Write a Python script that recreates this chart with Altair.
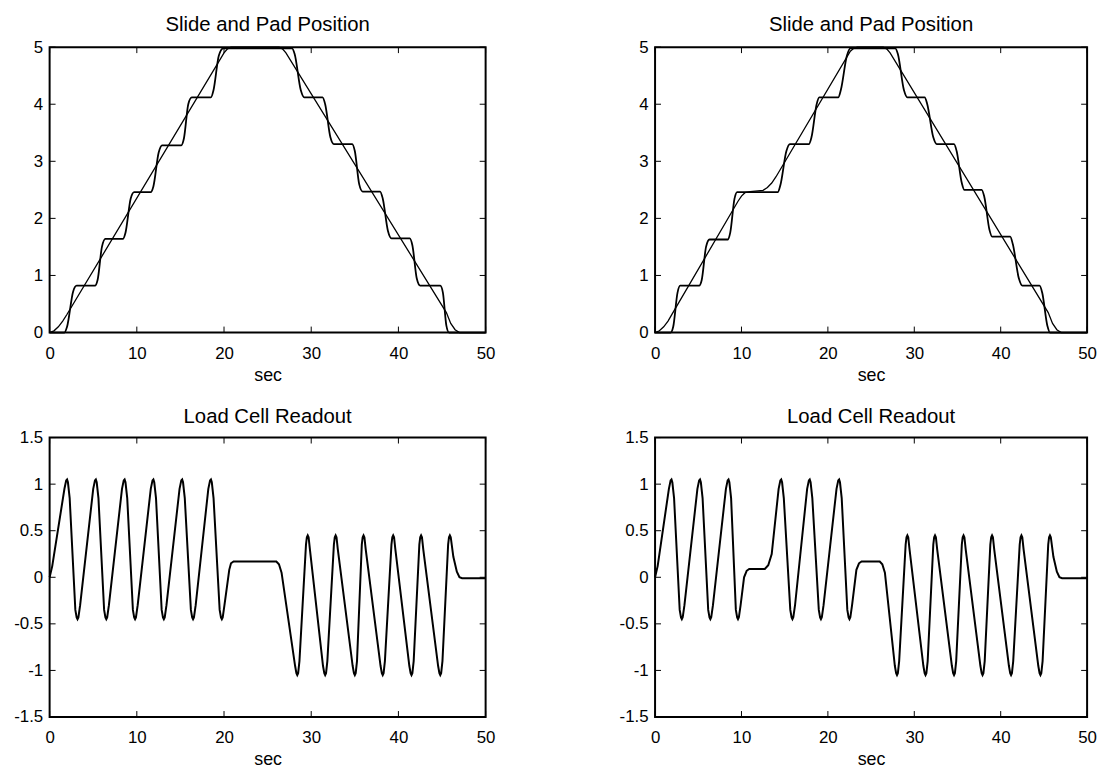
import altair as alt
import pandas as pd

# ---------------- data ----------------
X_TICKS = [0, 10, 20, 30, 40, 50]
POS_TICKS = [0, 1, 2, 3, 4, 5]
LOAD_TICKS = [-1.5, -1, -0.5, 0, 0.5, 1, 1.5]

# top-left: slide (straight ramp) and pad (stair steps)
TL_SLIDE_T = [0, 0.5, 1, 1.5, 2, 20.0, 20.4, 20.8, 26.3, 26.7, 27.1, 45.5,
              46.0, 46.5, 47.0, 50]
TL_SLIDE_Y = [0, 0.03, 0.1, 0.2, 0.32, 4.9, 4.97, 5.0, 5.0, 4.97, 4.9, 0.35,
              0.16, 0.05, 0.0, 0.0]

TL_PAD_T = [0, 1.7, 2.0, 2.7, 3.1, 5.2, 5.5, 6.0, 6.4, 8.4, 8.7, 9.3, 9.7,
            11.6, 11.9, 12.5, 12.9, 15.1, 15.4, 15.9, 16.3, 18.5, 18.8, 19.4,
            19.9, 27.8, 28.1, 28.8, 29.2, 31.3, 31.6, 32.2, 32.6, 34.7, 35.0,
            35.5, 35.9, 37.9, 38.2, 38.8, 39.2, 41.3, 41.6, 42.1, 42.5, 44.8,
            45.1, 45.5, 45.8, 50]
TL_PAD_Y = [0, 0, 0.1, 0.72, 0.82, 0.82, 0.92, 1.5, 1.64, 1.64, 1.75, 2.35,
            2.46, 2.46, 2.56, 3.15, 3.28, 3.28, 3.4, 4.0, 4.12, 4.12, 4.25,
            4.85, 4.98, 4.98, 4.88, 4.25, 4.12, 4.12, 4.0, 3.42, 3.3, 3.3,
            3.18, 2.6, 2.47, 2.47, 2.35, 1.78, 1.65, 1.65, 1.53, 0.95, 0.82,
            0.82, 0.7, 0.12, 0.0, 0.0]

# top-right: slide with a pause near 2.5, and pad
TR_SLIDE_T = [0, 0.5, 1, 1.5, 2, 9.6, 10.0, 10.4, 11.0, 12.5, 13.0, 13.5,
              14.0, 22.6, 23.0, 23.4, 26.4, 26.8, 27.2, 45.5, 46.0, 46.5,
              47.0, 50]
TR_SLIDE_Y = [0, 0.03, 0.1, 0.2, 0.33, 2.3, 2.39, 2.45, 2.47, 2.49, 2.54,
              2.62, 2.73, 4.93, 4.98, 5.0, 5.0, 4.97, 4.9, 0.35, 0.16, 0.05,
              0.0, 0.0]

TR_PAD_T = [0, 1.8, 2.1, 2.6, 2.9, 5.1, 5.4, 5.9, 6.3, 8.45, 8.7, 9.2, 9.5,
            14.2, 14.5, 15.2, 15.6, 17.8, 18.1, 18.7, 19.0, 21.2, 21.5, 22.2,
            22.6, 27.8, 28.1, 28.8, 29.2, 31.2, 31.5, 32.2, 32.6, 34.6, 34.9,
            35.5, 35.8, 37.8, 38.1, 38.7, 39.0, 41.1, 41.4, 42.1, 42.5, 44.5,
            44.8, 45.4, 45.7, 50]
TR_PAD_Y = [0, 0, 0.1, 0.7, 0.82, 0.82, 0.92, 1.5, 1.63, 1.63, 1.75, 2.35,
            2.46, 2.46, 2.58, 3.18, 3.3, 3.3, 3.42, 4.0, 4.12, 4.12, 4.25,
            4.85, 4.98, 4.98, 4.88, 4.25, 4.12, 4.12, 4.0, 3.42, 3.3, 3.3,
            3.18, 2.62, 2.5, 2.5, 2.38, 1.8, 1.68, 1.68, 1.55, 0.95, 0.82,
            0.82, 0.7, 0.12, 0.0, 0.0]

# bottom-left: load cell readout
BL_LOAD_T = [0, 0.3, 1.7, 1.9, 2.0, 2.1, 2.3, 2.95, 3.1, 3.2, 3.3, 3.5,
             5.0, 5.2, 5.3, 5.4, 5.6, 6.25, 6.4, 6.5, 6.6, 6.8,
             8.3, 8.5, 8.6, 8.7, 8.9, 9.55, 9.7, 9.8, 9.9, 10.1,
             11.6, 11.8, 11.9, 12.0, 12.2, 12.85, 13.0, 13.1, 13.2, 13.4,
             14.9, 15.1, 15.2, 15.3, 15.5, 16.2, 16.35, 16.45, 16.55, 16.75,
             18.2, 18.4, 18.5, 18.6, 18.8, 19.5, 19.65, 19.75, 19.85, 20.05,
             20.6, 20.8, 21.1, 26.0, 26.3, 26.6,
             28.15, 28.3, 28.4, 28.5, 28.65, 29.4, 29.5, 29.6, 29.7, 29.85,
             31.35, 31.5, 31.6, 31.7, 31.85, 32.6, 32.7, 32.8, 32.9, 33.05,
             34.75, 34.9, 35.0, 35.1, 35.25, 35.8, 35.9, 36.0, 36.1, 36.25,
             37.95, 38.1, 38.2, 38.3, 38.45, 39.2, 39.3, 39.4, 39.5, 39.65,
             41.25, 41.4, 41.5, 41.6, 41.75, 42.4, 42.5, 42.6, 42.7, 42.85,
             44.55, 44.7, 44.8, 44.9, 45.05, 45.7, 45.8, 45.9, 46.0, 46.3,
             46.7, 47.0, 47.3, 50]
BL_LOAD_Y = [0, 0.12, 0.95, 1.04, 1.05, 1.02, 0.85, -0.35, -0.43, -0.45, -0.43, -0.3,
             0.95, 1.04, 1.05, 1.02, 0.85, -0.35, -0.43, -0.45, -0.43, -0.3,
             0.95, 1.04, 1.05, 1.02, 0.85, -0.35, -0.43, -0.45, -0.43, -0.3,
             0.95, 1.04, 1.05, 1.02, 0.85, -0.35, -0.43, -0.45, -0.43, -0.3,
             0.95, 1.04, 1.05, 1.02, 0.85, -0.35, -0.43, -0.45, -0.43, -0.3,
             0.95, 1.04, 1.05, 1.02, 0.85, -0.35, -0.43, -0.45, -0.43, -0.3,
             0.08, 0.15, 0.17, 0.17, 0.14, 0.05,
             -0.95, -1.03, -1.05, -1.03, -0.9, 0.35, 0.43, 0.45, 0.43, 0.3,
             -0.95, -1.03, -1.05, -1.03, -0.9, 0.35, 0.43, 0.45, 0.43, 0.3,
             -0.95, -1.03, -1.05, -1.03, -0.9, 0.35, 0.43, 0.45, 0.43, 0.3,
             -0.95, -1.03, -1.05, -1.03, -0.9, 0.35, 0.43, 0.45, 0.43, 0.3,
             -0.95, -1.03, -1.05, -1.03, -0.9, 0.35, 0.43, 0.45, 0.43, 0.3,
             -0.95, -1.03, -1.05, -1.03, -0.9, 0.35, 0.43, 0.45, 0.43, 0.22,
             0.06, 0.0, -0.01, -0.01]

# bottom-right: load cell readout with a pause
BR_LOAD_T = [0, 0.3, 1.6, 1.8, 1.9, 2.0, 2.2, 2.85, 3.0, 3.1, 3.2, 3.4,
             4.9, 5.1, 5.2, 5.3, 5.5, 6.15, 6.3, 6.4, 6.5, 6.7,
             8.2, 8.4, 8.5, 8.6, 8.8, 9.35, 9.5, 9.6, 9.7, 9.9,
             10.3, 10.6, 10.9, 12.7, 13.1, 13.5,
             14.3, 14.5, 14.6, 14.7, 14.9, 15.65, 15.8, 15.9, 16.0, 16.2,
             17.6, 17.8, 17.9, 18.0, 18.2, 18.95, 19.1, 19.2, 19.3, 19.5,
             21.0, 21.2, 21.3, 21.4, 21.6, 22.25, 22.4, 22.5, 22.6, 22.8,
             23.3, 23.6, 23.9, 26.0, 26.3, 26.6,
             27.75, 27.9, 28.0, 28.1, 28.25, 29.0, 29.1, 29.2, 29.3, 29.45,
             31.05, 31.2, 31.3, 31.4, 31.55, 32.2, 32.3, 32.4, 32.5, 32.65,
             34.35, 34.5, 34.6, 34.7, 34.85, 35.5, 35.6, 35.7, 35.8, 35.95,
             37.65, 37.8, 37.9, 38.0, 38.15, 38.8, 38.9, 39.0, 39.1, 39.25,
             40.95, 41.1, 41.2, 41.3, 41.45, 42.2, 42.3, 42.4, 42.5, 42.65,
             44.35, 44.5, 44.6, 44.7, 44.85, 45.5, 45.6, 45.7, 45.8, 46.1,
             46.5, 46.8, 47.1, 50]
BR_LOAD_Y = [0, 0.12, 0.95, 1.04, 1.05, 1.02, 0.85, -0.35, -0.43, -0.45, -0.43, -0.3,
             0.95, 1.04, 1.05, 1.02, 0.85, -0.35, -0.43, -0.45, -0.43, -0.3,
             0.95, 1.04, 1.05, 1.02, 0.85, -0.35, -0.43, -0.45, -0.43, -0.3,
             0.0, 0.07, 0.09, 0.09, 0.13, 0.25,
             0.95, 1.04, 1.05, 1.02, 0.85, -0.35, -0.43, -0.45, -0.43, -0.3,
             0.95, 1.04, 1.05, 1.02, 0.85, -0.35, -0.43, -0.45, -0.43, -0.3,
             0.95, 1.04, 1.05, 1.02, 0.85, -0.35, -0.43, -0.45, -0.43, -0.3,
             0.08, 0.15, 0.17, 0.17, 0.14, 0.05,
             -0.95, -1.03, -1.05, -1.03, -0.9, 0.35, 0.43, 0.45, 0.43, 0.3,
             -0.95, -1.03, -1.05, -1.03, -0.9, 0.35, 0.43, 0.45, 0.43, 0.3,
             -0.95, -1.03, -1.05, -1.03, -0.9, 0.35, 0.43, 0.45, 0.43, 0.3,
             -0.95, -1.03, -1.05, -1.03, -0.9, 0.35, 0.43, 0.45, 0.43, 0.3,
             -0.95, -1.03, -1.05, -1.03, -0.9, 0.35, 0.43, 0.45, 0.43, 0.3,
             -0.95, -1.03, -1.05, -1.03, -0.9, 0.35, 0.43, 0.45, 0.43, 0.22,
             0.06, 0.0, -0.01, -0.01]

FONT = "Liberation Sans"
TICK = 6


def panel(title, series, ydom, yticks, w, h, toff):
    xs = alt.Scale(domain=[0, 50], nice=False, zero=False)
    ys = alt.Scale(domain=ydom, nice=False, zero=False)
    xaxis = alt.Axis(values=X_TICKS, title="sec", labelPadding=13,
                     titlePadding=5, labelFlush=False)
    yaxis = alt.Axis(values=yticks, title=None, labelPadding=7,
                     labelExpr="datum.value")
    layers = []
    for t, v, sw, interp in series:
        df = pd.DataFrame({"t": t, "v": v})
        layers.append(
            alt.Chart(df).mark_line(color="black", strokeWidth=sw,
                                    interpolate=interp)
            .encode(x=alt.X("t:Q", scale=xs, axis=xaxis),
                    y=alt.Y("v:Q", scale=ys, axis=yaxis))
        )
    xt = pd.DataFrame({"t": X_TICKS})
    yt = pd.DataFrame({"v": yticks})
    layers.append(alt.Chart(xt).mark_rule(color="black", strokeWidth=1).encode(
        x=alt.X("t:Q", scale=xs, axis=xaxis), y=alt.value(h), y2=alt.value(h - TICK)))
    layers.append(alt.Chart(xt).mark_rule(color="black", strokeWidth=1).encode(
        x=alt.X("t:Q", scale=xs, axis=xaxis), y=alt.value(0), y2=alt.value(TICK)))
    layers.append(alt.Chart(yt).mark_rule(color="black", strokeWidth=1).encode(
        y=alt.Y("v:Q", scale=ys, axis=yaxis), x=alt.value(0), x2=alt.value(TICK)))
    layers.append(alt.Chart(yt).mark_rule(color="black", strokeWidth=1).encode(
        y=alt.Y("v:Q", scale=ys, axis=yaxis), x=alt.value(w), x2=alt.value(w - TICK)))
    return alt.layer(*layers).properties(
        width=w, height=h,
        title=alt.TitleParams(title, fontSize=20.5, font=FONT, fontWeight="normal",
                              color="black", offset=toff, frame="group"))


tl = panel("Slide and Pad Position",
           [(TL_SLIDE_T, TL_SLIDE_Y, 1.3, "linear"),
            (TL_PAD_T, TL_PAD_Y, 1.8, "monotone")],
           [0, 5], POS_TICKS, 440, 288, 3)
tr = panel("Slide and Pad Position",
           [(TR_SLIDE_T, TR_SLIDE_Y, 1.3, "linear"),
            (TR_PAD_T, TR_PAD_Y, 1.8, "monotone")],
           [0, 5], POS_TICKS, 436, 288, 3)
bl = panel("Load Cell Readout", [(BL_LOAD_T, BL_LOAD_Y, 2.0, "linear")],
           [-1.5, 1.5], LOAD_TICKS, 440, 282, 1)
br = panel("Load Cell Readout", [(BR_LOAD_T, BR_LOAD_Y, 2.0, "linear")],
           [-1.5, 1.5], LOAD_TICKS, 436, 282, 1)

chart = alt.concat(tl, tr, bl, br, columns=2,
                   spacing={"row": 21, "column": 122}).configure_view(
    stroke="black", strokeWidth=2
).configure_axis(
    domain=False, ticks=False, grid=False,
    labelFont=FONT, labelFontSize=17, labelColor="black",
    titleFont=FONT, titleFontSize=18, titleFontWeight="normal", titleColor="black"
).properties(background="white",
             padding={"left": 4, "top": 2, "right": 0, "bottom": 0})

chart.save("out.html", embed_options={"renderer": "svg", "actions": False})
